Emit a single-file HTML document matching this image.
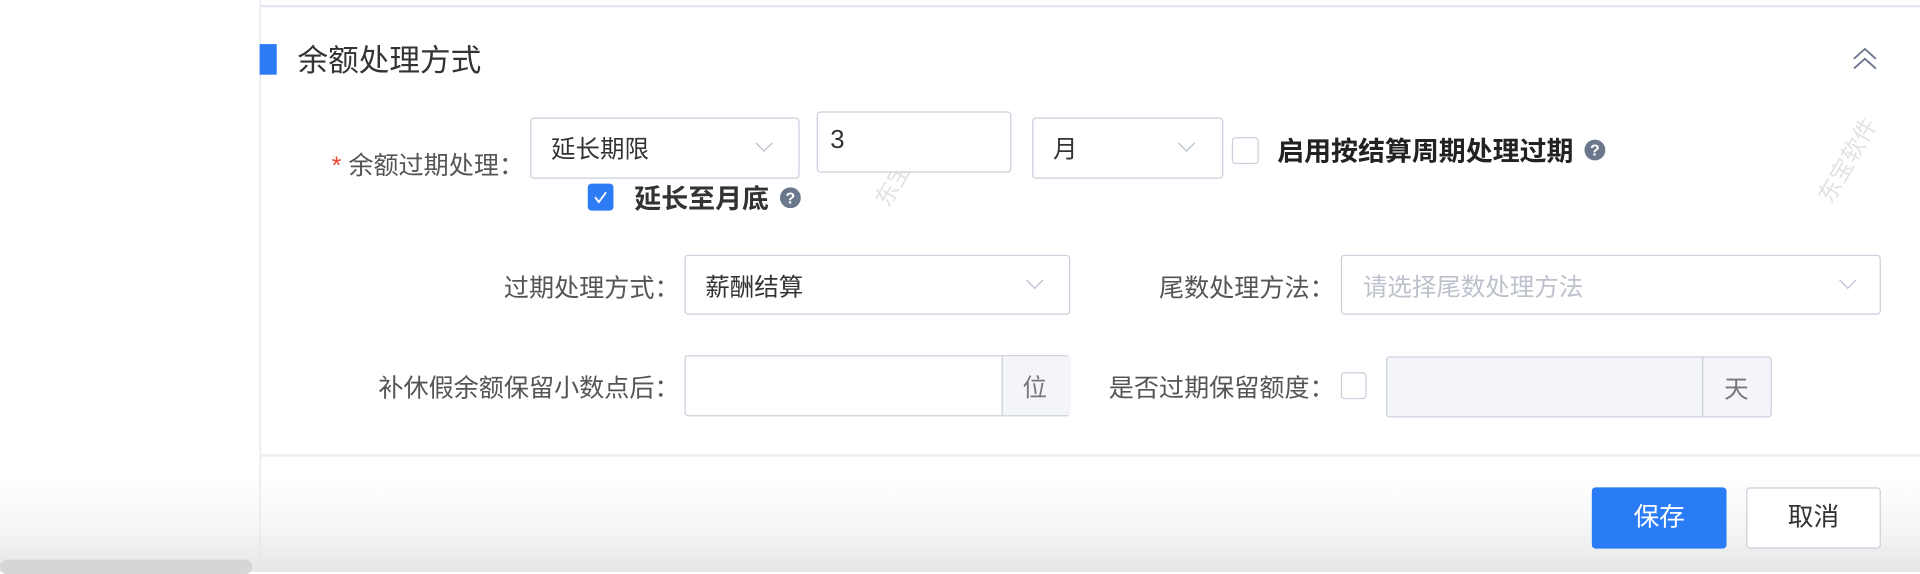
<!DOCTYPE html>
<html><head><meta charset="utf-8"><style>
html,body{margin:0;padding:0;width:1920px;height:572px;overflow:hidden;background:#fff}
#w{position:absolute;left:0;top:0;width:1568px;height:467px;transform:scale(1.22449);transform-origin:0 0;font-family:"Liberation Sans","Noto Sans CJK SC",sans-serif;
background:linear-gradient(to bottom,#fff 0,#fff 390px,#f6f6f6 430px,#e6e6e6 467px)}
.a{position:absolute}
.lbl{position:absolute;font-size:20.5px;color:#555;text-align:right;white-space:nowrap;transform:translateY(-50%)}
.box{position:absolute;border:1px solid #c9cfdb;border-radius:3px;background:#fff;box-sizing:border-box}
.txt{position:absolute;font-size:20px;color:#333;white-space:nowrap;transform:translateY(-50%)}
.chev{position:absolute;width:9px;height:9px;border-right:1.2px solid #b8bfcc;border-bottom:1.2px solid #b8bfcc;transform:rotate(45deg)}
.cb{position:absolute;width:20px;height:20px;border:1px solid #c9cfdb;border-radius:3px;background:#fff;box-sizing:border-box}
.q{position:absolute;width:17px;height:17px;border-radius:50%;background:#6b778c;color:#fff;font-size:13px;font-weight:bold;text-align:center;line-height:17px}
.wm{position:absolute;font-size:19px;color:#e2e2e2;transform:rotate(-60deg);white-space:nowrap}
</style></head><body><div id="w">
<div class="a" style="left:212px;top:0;width:1px;height:467px;background:#e3e6ec"></div>
<div class="a" style="left:212px;top:4px;width:1356px;height:2px;background:#e4e8ef"></div>
<div class="a" style="left:212px;top:36px;width:14px;height:25px;background:#2d7cf6"></div>
<div class="txt" style="left:243px;top:48px;font-size:25px;color:#333">余额处理方式</div>
<svg class="a" style="left:1512px;top:38px" width="22" height="20"><path d="M2 10 L11 2 L20 10 M2 18 L11 10 L20 18" fill="none" stroke="#6b778c" stroke-width="1.5"/></svg>
<div class="wm" style="left:700px;top:120px">东宝软件</div>
<div class="wm" style="left:1470px;top:117px">东宝软件</div>

<div class="lbl" style="right:1140px;top:133px"><span style="color:#f04134">*</span> 余额过期处理：</div>
<div class="box" style="left:433px;top:96px;width:220px;height:50px"></div>
<div class="txt" style="left:450px;top:120px">延长期限</div>
<div class="chev" style="left:619px;top:112px"></div>
<div class="box" style="left:667px;top:91px;width:159px;height:50px"></div>
<div class="txt" style="left:678px;top:115px;font-size:21px">3</div>
<div class="box" style="left:843px;top:96px;width:156px;height:50px"></div>
<div class="txt" style="left:860px;top:120px">月</div>
<div class="chev" style="left:964px;top:112px"></div>
<div class="cb" style="left:1006px;top:112px;width:22px;height:22px"></div>
<div class="txt" style="left:1043px;top:122px;font-weight:bold;color:#222;font-size:22px">启用按结算周期处理过期</div>
<div class="q" style="left:1294px;top:114px">?</div>
<div class="cb" style="left:480px;top:150px;width:21px;height:22px;background:#2d7cf6;border-color:#2d7cf6"></div>
<svg class="a" style="left:483px;top:154px" width="15" height="14"><path d="M3 7 L6 11 L12 3" fill="none" stroke="#fff" stroke-width="1.5"/></svg>
<div class="txt" style="left:518px;top:161px;font-weight:bold;color:#333;font-size:22px">延长至月底</div>
<div class="q" style="left:637px;top:153px">?</div>

<div class="lbl" style="right:1013px;top:233px">过期处理方式：</div>
<div class="box" style="left:559px;top:208px;width:315px;height:49px"></div>
<div class="txt" style="left:576px;top:233px">薪酬结算</div>
<div class="chev" style="left:840px;top:224px"></div>
<div class="lbl" style="right:478px;top:233px">尾数处理方法：</div>
<div class="box" style="left:1095px;top:208px;width:441px;height:49px"></div>
<div class="txt" style="left:1113px;top:233px;color:#bcc1cc">请选择尾数处理方法</div>
<div class="chev" style="left:1504px;top:224px"></div>

<div class="lbl" style="right:1013px;top:315px">补休假余额保留小数点后：</div>
<div class="box" style="left:559px;top:290px;width:315px;height:50px"></div>
<div class="a" style="left:818px;top:291px;width:55px;height:48px;background:#f4f5f8;border-left:1px solid #c9cfdb"></div>
<div class="txt" style="left:835px;top:315px;color:#777">位</div>
<div class="lbl" style="right:478px;top:315px">是否过期保留额度：</div>
<div class="cb" style="left:1095px;top:304px;width:21px;height:22px"></div>
<div class="box" style="left:1132px;top:291px;width:315px;height:50px;background:#f4f5f8"></div>
<div class="a" style="left:1390px;top:292px;width:1px;height:48px;background:#c9cfdb"></div>
<div class="txt" style="left:1408px;top:316px;color:#777">天</div>

<div class="a" style="left:212px;top:371px;width:1356px;height:2px;background:#ececec"></div>
<div class="a" style="left:1300px;top:398px;width:110px;height:50px;background:#2a7cf6;border-radius:3px;color:#fff;font-size:21px;text-align:center;line-height:50px">保存</div>
<div class="a" style="left:1426px;top:398px;width:110px;height:50px;box-sizing:border-box;border:1px solid #c9cfdb;border-radius:3px;background:#fff;color:#333;font-size:21px;text-align:center;line-height:48px">取消</div>
<div class="a" style="left:0;top:457px;width:206px;height:12px;border-radius:6px;background:#d6d6d6"></div>
</div></body></html>
